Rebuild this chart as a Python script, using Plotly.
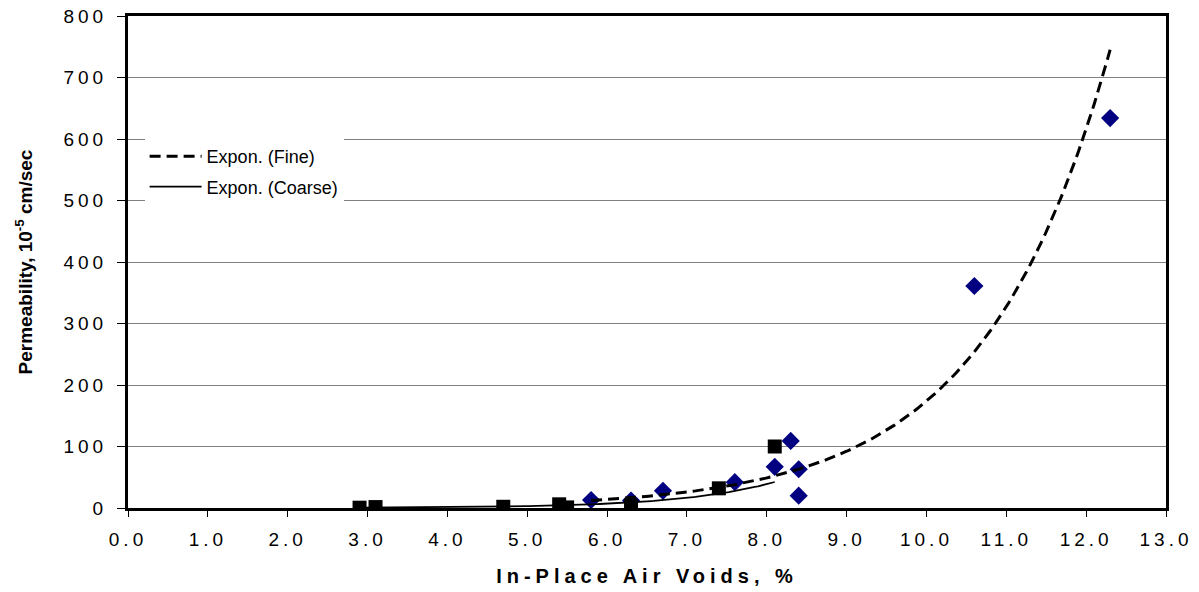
import numpy as np
import plotly.graph_objects as go

# Fine mixes (blue diamonds)
fine_voids = [5.8, 6.3, 6.7, 7.6, 8.1, 8.3, 8.4, 8.4, 10.6, 12.3]
fine_perm = [13, 12, 28, 42, 67, 109, 63, 20, 361, 634]

# Coarse mixes (black squares)
coarse_voids = [2.9, 3.1, 4.7, 5.4, 5.5, 6.3, 7.4, 8.1]
coarse_perm = [0.5, 1.5, 2, 6, 1, 4, 32, 100]

x_ticks = [float(i) for i in range(0, 14)]
y_ticks = list(range(0, 801, 100))


def expfit(x, y):
    x = np.asarray(x, float)
    y = np.asarray(y, float)
    b, lna = np.polyfit(x, np.log(y), 1)
    xs = np.linspace(x.min(), x.max(), 200)
    return xs, np.exp(lna) * np.exp(b * xs)


fx, fy = expfit(fine_voids, fine_perm)
cx, cy = expfit(coarse_voids, coarse_perm)

fig = go.Figure()
fig.add_trace(go.Scatter(x=fine_voids, y=fine_perm, mode="markers",
                         marker=dict(symbol="diamond", size=14, color="#000080"),
                         showlegend=False))
fig.add_trace(go.Scatter(x=coarse_voids, y=coarse_perm, mode="markers",
                         marker=dict(symbol="square", size=14, color="black"),
                         showlegend=False))
fig.add_trace(go.Scatter(x=fx, y=fy, mode="lines", name="Expon. (Fine)", legendgroup="f",
                         line=dict(color="black", width=3, dash="11px,6px")))
fig.add_trace(go.Scatter(x=cx, y=cy, mode="lines", name="Expon. (Coarse)", legendgroup="c",
                         line=dict(color="black", width=1.8)))

font = "Liberation Sans, Arial, sans-serif"
fig.update_layout(
    width=1199, height=592,
    margin=dict(l=128, r=33, t=16, b=84),
    paper_bgcolor="white", plot_bgcolor="white",
    font=dict(family=font, color="black", size=19),
    legend=dict(x=0.016, y=0.752, xanchor="left", yanchor="top",
                bgcolor="white", borderwidth=0, itemwidth=52,
                tracegroupgap=4,
                font=dict(size=18, family=font)),
    xaxis=dict(range=[0, 13], tickvals=x_ticks, tickformat=".1f", automargin=False,
               showgrid=False, zeroline=False,
               showline=True, linecolor="black", linewidth=3, mirror=True,
               ticks="outside", ticklen=6, tickcolor="black", ticklabelstandoff=6,
               title=dict(text="<b>In-Place Air Voids, %</b>", font=dict(size=20), standoff=21)),
    yaxis=dict(range=[0, 800], tickvals=y_ticks, automargin=False,
               showgrid=True, gridcolor="#808080", gridwidth=1, zeroline=False,
               showline=True, linecolor="black", linewidth=3, mirror=True,
               ticks="outside", ticklen=8, tickcolor="black", ticklabelstandoff=6,
               title=dict(text="<b>Permeability, 10<sup>-5</sup> cm/sec</b>", font=dict(size=19), standoff=38)),
)

post = """
var gd = document.getElementById('{plot_id}');
function sp(){
  gd.querySelectorAll('.xtick text, .ytick text').forEach(function(t){t.style.letterSpacing='4px';});
  gd.querySelectorAll('.g-xtitle text').forEach(function(t){t.style.letterSpacing='5px';});
}
sp();
gd.on('plotly_afterplot', sp);
"""

fig.write_html("out.html", post_script=post)
